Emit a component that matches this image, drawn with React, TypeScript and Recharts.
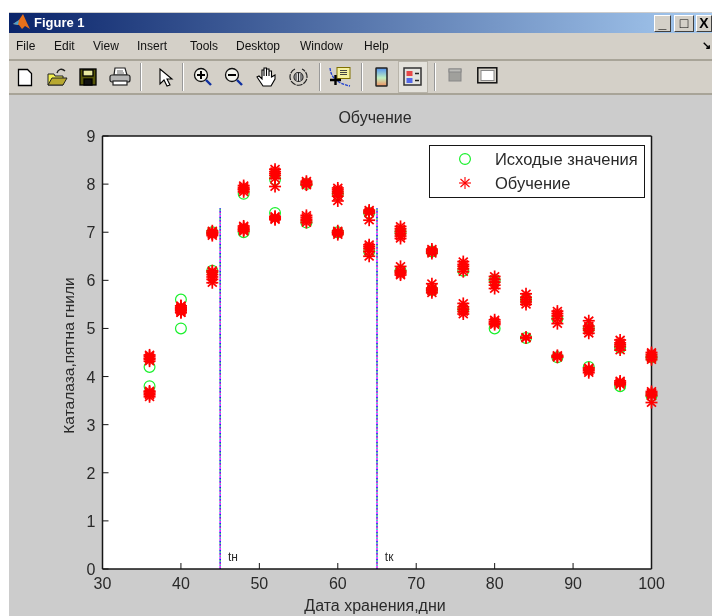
import React from 'react';
import {
  ScatterChart,
  Scatter,
  XAxis,
  YAxis,
  Legend,
  ReferenceLine,
  ReferenceDot,
  ReferenceArea,
} from 'recharts';

const xTicks = [30, 40, 50, 60, 70, 80, 90, 100];
const yTicks = [0, 1, 2, 3, 4, 5, 6, 7, 8, 9];
const days = [36, 40, 44, 48, 52, 56, 60, 64, 68, 72, 76, 80, 84, 88, 92, 96, 100];

// green circles, two per storage day
const sourceUpper = [4.2, 5.6, 7.0, 7.8, 8.1, 8.0, 7.8, 7.4, 7.0, 6.6, 6.2, 6.0, 5.6, 5.2, 5.0, 4.6, 4.4];
const sourceLower = [3.8, 5.0, 6.2, 7.0, 7.4, 7.2, 7.0, 6.6, 6.2, 5.8, 5.4, 5.0, 4.8, 4.4, 4.2, 3.8, 3.6];

// red stars around each circle
const trainedUpper = [
  [4.32, 4.36, 4.38, 4.42, 4.45],
  [5.33, 5.37, 5.4, 5.43, 5.47],
  [6.93, 6.96, 6.98, 7.0, 7.03],
  [7.84, 7.88, 7.9, 7.93, 7.97],
  [7.95, 8.12, 8.18, 8.22, 8.26, 8.31],
  [7.98, 8.0, 8.03, 8.06],
  [7.65, 7.75, 7.8, 7.84, 7.88, 7.92],
  [7.25, 7.4, 7.43, 7.46],
  [6.87, 6.92, 6.97, 7.02, 7.07, 7.12],
  [6.56, 6.59, 6.62, 6.65],
  [6.18, 6.24, 6.29, 6.33, 6.39],
  [5.83, 5.9, 5.96, 6.02, 6.08],
  [5.5, 5.55, 5.6, 5.65, 5.72],
  [5.1, 5.2, 5.26, 5.31, 5.36],
  [4.9, 4.96, 5.0, 5.05, 5.16],
  [4.55, 4.62, 4.66, 4.7, 4.76],
  [4.35, 4.39, 4.42, 4.46, 4.5],
];
const trainedLower = [
  [3.58, 3.62, 3.65, 3.68, 3.7],
  [5.33, 5.37, 5.4, 5.43, 5.47],
  [5.95, 6.02, 6.07, 6.12, 6.17, 6.2],
  [7.02, 7.05, 7.07, 7.1, 7.13],
  [7.26, 7.28, 7.31, 7.33],
  [7.2, 7.24, 7.27, 7.31, 7.35],
  [6.95, 6.98, 7.0, 7.03],
  [6.5, 6.6, 6.66, 6.7, 6.74],
  [6.11, 6.14, 6.17, 6.2, 6.29],
  [5.74, 5.78, 5.81, 5.84, 5.93],
  [5.3, 5.35, 5.4, 5.45, 5.52],
  [5.08, 5.11, 5.14, 5.18],
  [4.8, 4.82],
  [4.4, 4.42, 4.44],
  [4.08, 4.12, 4.15, 4.18],
  [3.83, 3.86, 3.88, 3.91],
  [3.46, 3.6, 3.63, 3.66, 3.69],
];

const boundaryDays = [45, 65];
const boundaryTop = 7.5;
const boundaryColors = ['#0000ff', '#ff00ff', '#00c0c0', '#c000c0', '#2020ff', '#30b060'];
const boundaryNames = ['tн', 'tк'];

const menuItems = ['File', 'Edit', 'View', 'Insert', 'Tools', 'Desktop', 'Window', 'Help'];
const menuLeft = [16, 54, 93, 137, 190, 236, 300, 364];

const seriesNames = ['Исходые значения', 'Обучение'];

const sourceData = days.flatMap((x, i) => [
  { x, y: sourceUpper[i] },
  { x, y: sourceLower[i] },
]);
const trainedData = days.flatMap((x, i) =>
  [...trainedUpper[i], ...trainedLower[i]].map((y) => ({ x, y })),
);

const FONT = '"Liberation Sans", Arial, sans-serif';
const AXIS = '#161616';
const INK = '#2a2a2a';

const Ring = ({ cx, cy }: any) => (
  <circle cx={cx} cy={cy} r={5.4} fill="none" stroke="#19f02c" strokeWidth={1.2} />
);

const Star = ({ cx, cy, weight = 1.7 }: any) => (
  <g stroke="#ff0000" strokeWidth={weight}>
    <line x1={cx} y1={cy - 6} x2={cx} y2={cy + 6} />
    <line x1={cx - 6} y1={cy} x2={cx + 6} y2={cy} />
    <line x1={cx - 4.5} y1={cy - 4} x2={cx + 4.5} y2={cy + 4} />
    <line x1={cx - 4.5} y1={cy + 4} x2={cx + 4.5} y2={cy - 4} />
  </g>
);

const BottomTick = ({ x, y, payload }: any) => (
  <g>
    <line x1={x} y1={y} x2={x} y2={y - 6} stroke={AXIS} />
    <text x={x} y={y + 20} textAnchor="middle" fontSize={16} fontFamily={FONT} fill={INK}>
      {payload.value}
    </text>
  </g>
);

const TopTick = ({ x, y }: any) => <line x1={x} y1={y} x2={x} y2={y + 6} stroke={AXIS} />;

const LeftTick = ({ x, y, payload }: any) => (
  <g>
    <line x1={x} y1={y} x2={x + 6} y2={y} stroke={AXIS} />
    <text x={x - 7} y={y + 6} textAnchor="end" fontSize={16} fontFamily={FONT} fill={INK}>
      {payload.value}
    </text>
  </g>
);

const RightTick = ({ x, y }: any) => <line x1={x} y1={y} x2={x - 6} y2={y} stroke={AXIS} />;

const BoundaryName = ({ cx, cy, name }: any) => (
  <text x={cx} y={cy + 4} fontSize={12} fontFamily={FONT} fill={INK}>
    {name}
  </text>
);

// axis titles sit a fixed distance off their axis
const Caption = ({ viewBox, value, dx = 0, dy = 0, vertical = false }: any) => {
  const x = viewBox.x + viewBox.width / 2 + dx;
  const y = viewBox.y + viewBox.height / 2 + dy;
  return (
    <text
      x={x}
      y={y}
      textAnchor="middle"
      dominantBaseline="central"
      fontSize={vertical ? 15.5 : 16}
      fontFamily={FONT}
      fill={INK}
      transform={vertical ? `rotate(-90 ${x} ${y})` : undefined}
    >
      {value}
    </text>
  );
};

const LegendBox = () => (
  <div
    style={{
      width: 216,
      height: 53,
      boxSizing: 'border-box',
      border: `1.5px solid ${AXIS}`,
      background: '#fff',
      position: 'relative',
      fontFamily: FONT,
      fontSize: 16.5,
      color: INK,
    }}
  >
    <svg width={80} height={50} style={{ position: 'absolute', left: 0, top: 0 }}>
      <Ring cx={35} cy={13} />
      <Star cx={35} cy={37} weight={1.1} />
    </svg>
    <div style={{ position: 'absolute', left: 65, top: 4, whiteSpace: 'nowrap' }}>{seriesNames[0]}</div>
    <div style={{ position: 'absolute', left: 65, top: 28, whiteSpace: 'nowrap' }}>{seriesNames[1]}</div>
  </div>
);

const icons: Record<string, React.ReactNode> = {
  new: <path d="M1.5 1.5h9l4 4v12h-13z" fill="#fff" stroke="#000" strokeWidth={1.3} />,
  open: (
    <g stroke="#222">
      <path d="M1 18V7h6l1 2h8v9z" fill="#f0ee50" />
      <path d="M1 18l4-7h15l-4 7z" fill="#b8a830" />
      <path d="M10 6c1-4 5-5 8-2" fill="none" strokeWidth={1.4} />
    </g>
  ),
  save: (
    <g stroke="#000" strokeWidth={1.3}>
      <rect x={1} y={1} width={16} height={16} fill="#56560a" />
      <rect x={4} y={2} width={10} height={6} fill="#e8e8a0" />
      <rect x={5} y={11} width={8} height={6} fill="#111" />
    </g>
  ),
  print: (
    <g stroke="#222" strokeWidth={1.2}>
      <path d="M6 1h10l2 7H5z" fill="#fff" />
      <rect x={1} y={8} width={20} height={7} rx={2} fill="#b4b4b4" />
      <rect x={4} y={14} width={14} height={4} fill="#fff" />
      <path d="M8 4h6M8 6h7" stroke="#666" />
    </g>
  ),
  arrow: <path d="M2 1v15l4-4 3 6 3-1-3-6h5z" fill="#fff" stroke="#000" strokeWidth={1.1} />,
  zoomIn: (
    <g>
      <circle cx={8} cy={8} r={6.5} fill="#f4f4ee" stroke="#111" strokeWidth={1.3} />
      <path d="M4 8h8M8 4v8" stroke="#000" strokeWidth={2} />
      <path d="M13 13l5 5" stroke="#1030a0" strokeWidth={2.4} />
    </g>
  ),
  zoomOut: (
    <g>
      <circle cx={8} cy={8} r={6.5} fill="#f4f4ee" stroke="#111" strokeWidth={1.3} />
      <path d="M4 8h8" stroke="#000" strokeWidth={2} />
      <path d="M13 13l5 5" stroke="#1030a0" strokeWidth={2.4} />
    </g>
  ),
  hand: (
    <path
      d="M7 19L1 10l2-1 3 3V3h2v6V1h2.5v8V2H13v7V4h2.5v6L19 8v4l-4 7z"
      fill="#fff"
      stroke="#000"
      strokeWidth={1.1}
    />
  ),
  rotate: (
    <g fill="none" stroke="#222" strokeWidth={1.2}>
      <path d="M6 2a8.5 8.5 0 1 0 7 0" strokeDasharray="6 1" />
      <circle cx={9.5} cy={10} r={4.5} fill="#ddd" />
      <path d="M7 7v6M9.5 6v8M12 7v6" strokeWidth={1} />
    </g>
  ),
  cursor: (
    <g>
      <path d="M1 1c1 9 6 15 20 18" fill="none" stroke="#2040d0" strokeWidth={1.3} strokeDasharray="3 1" />
      <rect x={8} y={0.5} width={13} height={11} fill="#f4f0a0" stroke="#807000" />
      <path d="M11 3.5h7M11 5.5h7M11 7.5h7" stroke="#444" />
      <path d="M1 13h11M6.5 8v10" stroke="#000" strokeWidth={2.4} />
    </g>
  ),
  colorbar: (
    <g>
      <defs>
        <linearGradient id="cb" x1="0" y1="0" x2="0" y2="1">
          <stop offset="0" stopColor="#5090f0" />
          <stop offset="0.55" stopColor="#c0f0c0" />
          <stop offset="1" stopColor="#f09060" />
        </linearGradient>
      </defs>
      <rect x={1} y={1} width={11} height={18} rx={0.5} fill="url(#cb)" stroke="#222" strokeWidth={1.5} />
    </g>
  ),
  legend: (
    <g>
      <rect x={1} y={1} width={17} height={17} fill="#e4e4e0" stroke="#333" strokeWidth={1.5} />
      <rect x={3.5} y={4} width={6} height={5} fill="#e84848" />
      <rect x={3.5} y={11} width={6} height={5} fill="#5468e8" />
      <path d="M12 6.5h4M12 13.5h4" stroke="#222" strokeWidth={1.4} />
    </g>
  ),
  gray: (
    <g>
      <rect x={1} y={1} width={12} height={12} fill="#a0a09c" stroke="#888" />
      <rect x={1} y={1} width={12} height={3} fill="#bcbcb8" stroke="#888" />
    </g>
  ),
  frame: (
    <g>
      <rect x={0.8} y={0.8} width={19} height={15} fill="#d4d0c8" stroke="#111" strokeWidth={1.5} />
      <rect x={4} y={3.5} width={13} height={10} fill="#fff" stroke="#888" />
    </g>
  ),
};

const toolbarIcons = [
  ['new', 17, 68],
  ['open', 47, 67],
  ['save', 79, 68],
  ['print', 109, 67],
  ['arrow', 158, 68],
  ['zoomIn', 193, 67],
  ['zoomOut', 224, 67],
  ['hand', 256, 67],
  ['rotate', 289, 67],
  ['cursor', 329, 67],
  ['colorbar', 375, 67],
  ['legend', 403, 67],
  ['gray', 448, 68],
  ['frame', 477, 67],
] as const;
const toolbarSeparators = [140, 182, 319, 361, 434];

const abs = (left: number, top: number, width: number, height: number): React.CSSProperties => ({
  position: 'absolute',
  left,
  top,
  width,
  height,
});

const WindowButton = ({ left, width, glyph }: { left: number; width: number; glyph: string }) => (
  <div
    style={{
      ...abs(left, 15, width, 17),
      background: '#d4d0c8',
      borderTop: '1px solid #fff',
      borderLeft: '1px solid #fff',
      borderRight: '1px solid #404040',
      borderBottom: '1px solid #404040',
      boxSizing: 'border-box',
      textAlign: 'center',
      fontFamily: FONT,
      fontSize: 14,
      fontWeight: 700,
      lineHeight: '15px',
      color: '#000',
    }}
  >
    {glyph}
  </div>
);

export default function App() {
  return (
    <div
      style={{
        position: 'absolute',
        left: 0,
        top: 0,
        width: 712,
        height: 616,
        background: '#fff',
        overflow: 'hidden',
        filter: 'blur(0.35px)',
      }}
    >
      {/* window chrome */}
      <div style={{ ...abs(9, 12, 703, 604), background: '#cccccc' }} />
      <div
        style={{
          ...abs(9, 13, 703, 20),
          background: 'linear-gradient(90deg, #0a246a 0%, #a6caf0 100%)',
          color: '#fff',
          fontFamily: FONT,
          fontWeight: 700,
          fontSize: 13,
          lineHeight: '20px',
          textIndent: 25,
        }}
      >
        Figure 1
      </div>
      <svg width={20} height={20} style={{ position: 'absolute', left: 12, top: 13 }}>
        <path d="M1 11l6-4 4-6 4 9 3 6-5-3-3 3-3-4z" fill="#e8701a" />
        <path d="M1 11l6-4-1 5z" fill="#4aa0d0" />
      </svg>
      <WindowButton left={654} width={17} glyph="_" />
      <WindowButton left={674} width={20} glyph="□" />
      <WindowButton left={696} width={16} glyph="X" />
      <div style={{ ...abs(9, 33, 703, 60), background: '#d4d0c8' }} />
      <div style={{ ...abs(9, 59, 703, 2), background: '#a8a498' }} />
      <div style={{ ...abs(9, 93, 703, 2), background: '#a8a498' }} />
      {menuItems.map((item, i) => (
        <div
          key={item}
          style={{
            position: 'absolute',
            left: menuLeft[i],
            top: 39,
            fontFamily: FONT,
            fontSize: 12,
            color: '#111',
          }}
        >
          {item}
        </div>
      ))}
      <div style={{ position: 'absolute', left: 702, top: 39, fontFamily: FONT, fontSize: 11, fontWeight: 700 }}>↘</div>
      <div style={{ ...abs(398, 61, 30, 32), background: '#e4e2dc', border: '1px solid #b8b4aa', boxSizing: 'border-box' }} />
      {toolbarSeparators.map((left) => (
        <div key={left} style={{ ...abs(left, 63, 1, 28), background: '#999', borderRight: '1px solid #fff' }} />
      ))}
      {toolbarIcons.map(([name, left, top]) => (
        <svg key={name} width={22} height={20} style={{ position: 'absolute', left, top }}>
          {icons[name]}
        </svg>
      ))}

      <div style={{ position: 'absolute', left: 0, top: 0 }}>
        <ScatterChart
          width={712}
          height={616}
          margin={{ top: 135, right: 59.5, bottom: 46, left: 101.5 }}
          style={{ fontFamily: FONT }}
        >
          <ReferenceArea x1={30} x2={100} y1={0} y2={9} fill="#ffffff" fillOpacity={1} stroke="none" />
          <XAxis
            type="number"
            dataKey="x"
            domain={[30, 100]}
            ticks={xTicks}
            interval={0}
            height={1}
            tickSize={0}
            tickMargin={0}
            tick={<BottomTick />}
            axisLine={{ stroke: AXIS, strokeWidth: 1.5 }}
            label={{ value: 'Дата хранения,дни', content: (p: any) => <Caption {...p} dx={-2} dy={36} /> }}
          />
          <XAxis
            xAxisId="top"
            orientation="top"
            type="number"
            domain={[30, 100]}
            ticks={xTicks}
            interval={0}
            height={1}
            tickSize={0}
            tickMargin={0}
            tick={<TopTick />}
            axisLine={{ stroke: AXIS, strokeWidth: 1.5 }}
            label={{ value: 'Обучение', content: (p: any) => <Caption {...p} dx={-2} dy={-18} /> }}
          />
          <YAxis
            type="number"
            dataKey="y"
            domain={[0, 9]}
            ticks={yTicks}
            interval={0}
            width={1}
            tickSize={0}
            tickMargin={0}
            tick={<LeftTick />}
            axisLine={{ stroke: AXIS, strokeWidth: 1.5 }}
            label={{ value: 'Каталаза,пятна гнили', content: (p: any) => <Caption {...p} dx={-34} dy={3} vertical /> }}
          />
          <YAxis
            yAxisId="right"
            orientation="right"
            type="number"
            domain={[0, 9]}
            ticks={yTicks}
            interval={0}
            width={1}
            tickSize={0}
            tickMargin={0}
            tick={<RightTick />}
            axisLine={{ stroke: AXIS, strokeWidth: 1.5 }}
          />
          {boundaryDays.map((day) =>
            boundaryColors.map((color, i) => (
              <ReferenceLine
                key={`${day}-${color}`}
                segment={[
                  { x: day, y: 0 },
                  { x: day, y: boundaryTop },
                ]}
                stroke={color}
                strokeWidth={1.5}
                strokeDasharray={`0 ${i * 1.5} 1.5 ${(boundaryColors.length - 1 - i) * 1.5}`}
              />
            )),
          )}
          {boundaryDays.map((day, d) => (
            <ReferenceDot
              key={day}
              x={day + 1}
              y={0.25}
              shape={(props: any) => <BoundaryName {...props} name={boundaryNames[d]} />}
            />
          ))}
          <Scatter name={seriesNames[0]} data={sourceData} shape={<Ring />} isAnimationActive={false} />
          <Scatter name={seriesNames[1]} data={trainedData} shape={<Star />} isAnimationActive={false} />
          <Legend
            layout="vertical"
            align="center"
            verticalAlign="middle"
            content={<LegendBox />}
            wrapperStyle={{ left: 429, top: 145, width: 216, height: 53 }}
          />
        </ScatterChart>
      </div>
    </div>
  );
}
